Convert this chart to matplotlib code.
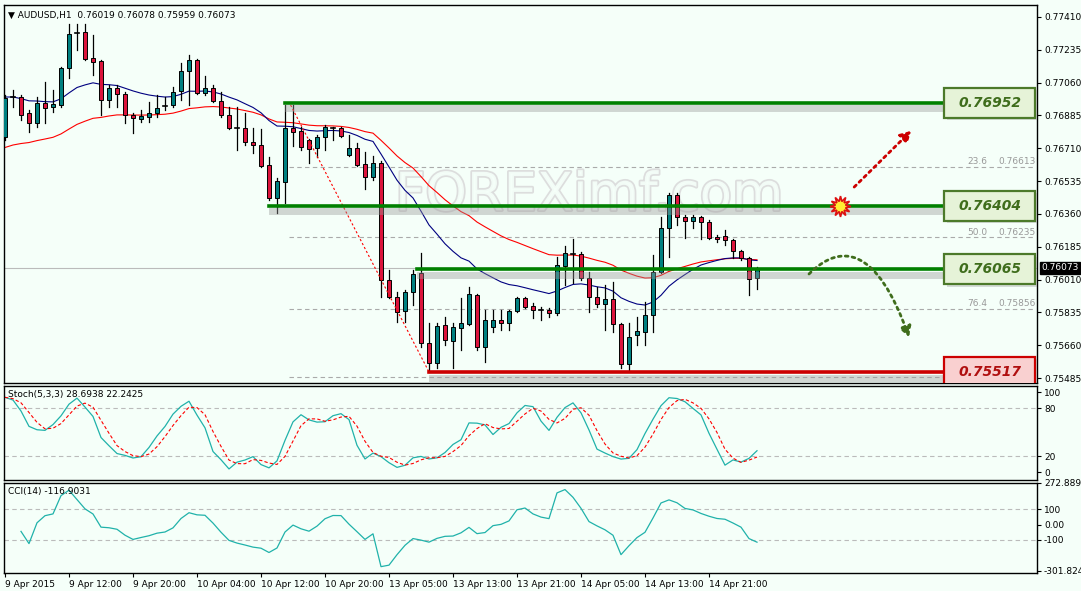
import matplotlib
matplotlib.use("Agg")
import matplotlib.pyplot as plt
import matplotlib.patheffects as pe
from matplotlib.patches import Rectangle, FancyArrowPatch, Path
import numpy as np
import pandas as pd

# ---- data (AUDUSD H1, 5-digit points) ----
opens = [76770, 76984, 76984, 76898, 76845, 76952, 76930, 76941, 77138, 77325,
         77330, 77191, 77175, 76968, 77032, 77000, 76888, 76866, 76877, 76898,
         76936, 76941, 77016, 77122, 77181, 77005, 77032, 76962, 76888, 76818,
         76818, 76744, 76728, 76621, 76445, 76531, 76818, 76802, 76754, 76711,
         76770, 76818, 76818, 76675, 76712, 76626, 76557, 76632, 76008, 75918,
         75843, 75944, 76045, 75672, 75566, 75768, 75683, 75752, 75774, 75928,
         75651, 75758, 75795, 75779, 75843, 75912, 75870, 75848, 75848, 75832,
         76083, 76147, 76147, 76019, 75918, 75880, 75907, 75774, 75561, 75715,
         75731, 75822, 76051, 76285, 76461, 76344, 76323, 76344, 76317, 76237,
         76243, 76221, 76163, 76125, 76019]
highs = [76994, 77021, 76994, 76914, 76984, 77064, 77021, 77143, 77373, 77373,
         77373, 77314, 77180, 77048, 77048, 77010, 76898, 76914, 76957, 76994,
         76984, 77037, 77165, 77207, 77186, 77096, 77048, 77010, 76930, 76930,
         76898, 76818, 76813, 76664, 76552, 76941, 76941, 76824, 76759, 76781,
         76834, 76824, 76824, 76781, 76738, 76690, 76669, 76642, 76062, 75944,
         75955, 76062, 76152, 75779, 75779, 75811, 75779, 75912, 75971, 75934,
         75848, 75848, 75848, 75848, 75918, 75918, 75886, 75864, 75859, 76131,
         76189, 76227, 76157, 76051, 75971, 75982, 75998, 75779, 75779, 75811,
         75891, 76141, 76344, 76472, 76472, 76355, 76355, 76350, 76328, 76248,
         76275, 76227, 76168, 76131, 76078]
lows = [76754, 76930, 76861, 76797, 76824, 76845, 76904, 76930, 77085, 77234,
        77180, 77101, 76888, 76930, 76930, 76845, 76792, 76850, 76850, 76877,
        76914, 76930, 76968, 76941, 77000, 76994, 76957, 76877, 76813, 76701,
        76728, 76685, 76610, 76435, 76365, 76419, 76722, 76701, 76632, 76664,
        76701, 76754, 76770, 76669, 76616, 76493, 76541, 75918, 75912, 75784,
        75784, 75875, 75651, 75518, 75539, 75662, 75539, 75635, 75768, 75635,
        75571, 75731, 75742, 75742, 75838, 75860, 75806, 75795, 75811, 75822,
        75982, 75992, 76008, 75838, 75864, 75742, 75731, 75539, 75528, 75662,
        75662, 75731, 76045, 76131, 76301, 76232, 76285, 76227, 76227, 76211,
        76195, 76125, 76115, 75928, 75959]
closes = [76978, 76986, 76888, 76845, 76952, 76925, 76946, 77138, 77319, 77323,
          77186, 77170, 76968, 77032, 77000, 76888, 76872, 76882, 76898, 76925,
          76938, 77010, 77122, 77181, 77005, 77032, 76962, 76888, 76818, 76820,
          76744, 76728, 76616, 76445, 76536, 76818, 76797, 76717, 76706, 76770,
          76824, 76816, 76776, 76712, 76621, 76557, 76632, 76008, 75918, 75838,
          75944, 76040, 75672, 75566, 75763, 75688, 75758, 75779, 75934, 75651,
          75795, 75795, 75779, 75843, 75912, 75864, 75848, 75846, 75832, 76088,
          76152, 76149, 76019, 75918, 75880, 75907, 75774, 75561, 75704, 75736,
          75822, 76051, 76285, 76461, 76344, 76323, 76344, 76317, 76232, 76227,
          76221, 76163, 76125, 76014, 76073]
time_labels = ["9 Apr 2015", "9 Apr 12:00", "9 Apr 20:00", "10 Apr 04:00",
               "10 Apr 12:00", "10 Apr 20:00", "13 Apr 05:00", "13 Apr 13:00",
               "13 Apr 21:00", "14 Apr 05:00", "14 Apr 13:00", "14 Apr 21:00"]
price_ticks = [0.77410, 0.77235, 0.77060, 0.76885, 0.76710, 0.76535,
               0.76360, 0.76185, 0.76010, 0.75835, 0.75660, 0.75485]
levels = [0.76952, 0.76404, 0.76065]
support = 0.75517
fib_levels = [("23.6", 0.76613), ("50.0", 0.76235), ("76.4", 0.75856)]
ma_seed_fast, ma_seed_slow = 0.76984, 0.76701
stoch_title = "Stoch(5,3,3) 28.6938 22.2425"
cci_title = "CCI(14) -116.9031"

o = np.array(opens) / 1e5
h = np.array(highs) / 1e5
l = np.array(lows) / 1e5
c = np.array(closes) / 1e5
n = len(c)
idx = np.arange(n)

# indicators
s = pd.Series(c)
ma_fast = pd.concat([pd.Series([ma_seed_fast] * 8), s]).ewm(span=21, adjust=False).mean().values[8:]
ma_slow = pd.concat([pd.Series([ma_seed_slow] * 8), s]).ewm(span=40, adjust=False).mean().values[8:]
hh = pd.Series(h).rolling(5, min_periods=1).max()
ll = pd.Series(l).rolling(5, min_periods=1).min()
k = ((s - ll).rolling(3, min_periods=1).sum() / (hh - ll).rolling(3, min_periods=1).sum() * 100)
d = k.rolling(3, min_periods=1).mean()
tp = (pd.Series(h) + pd.Series(l) + s) / 3
sma = tp.rolling(14, min_periods=3).mean()
mad = tp.rolling(14, min_periods=3).apply(lambda x: np.abs(x - x.mean()).mean(), raw=True)
cci = (tp - sma) / (0.015 * mad)

W, H = 1081, 591
BG = "#f5fff9"
fig = plt.figure(figsize=(W / 100, H / 100), dpi=100, facecolor=BG)
plt.rcParams['font.family'] = ['DejaVu Sans']

def axes_px(left, top, right, bottom):
    return fig.add_axes([left / W, 1 - bottom / H, (right - left) / W, (bottom - top) / H], facecolor=BG)

xlim = ((4 - 5) / 8, (1037 - 5) / 8)
ax = axes_px(4, 5, 1037, 383)
ax2 = axes_px(4, 386, 1037, 480)
ax3 = axes_px(4, 483, 1037, 573)

for a in (ax, ax2, ax3):
    a.set_xlim(*xlim)
    a.yaxis.tick_right()
    a.tick_params(axis='y', labelsize=6.5, length=3, pad=2, colors='black')
    a.tick_params(axis='x', length=0)
    a.set_xticklabels([])
    for sp in a.spines.values():
        sp.set_linewidth(1)

ax.set_ylim(0.7741 - 366 * 0.0000533, 0.7741 + 12 * 0.0000533)
ax.set_yticks(price_ticks)
ax.set_yticklabels([f"{p:.5f}" for p in price_ticks])
ax.set_xticks([])

# fib dashed lines
for lab, val in fib_levels + [("", 0.75485 + 0.00008)]:
    ax.plot([35.5, 128.5], [val, val], color='#aaaaaa', lw=0.8, ls=(0, (4, 3)), zorder=1)
    if lab:
        ax.text(120.3, val + 0.00004, lab, fontsize=6.5, color='#999999', va='bottom')
        ax.text(124.2, val + 0.00004, f"{val:.5f}", fontsize=6.5, color='#999999', va='bottom')
ax.axhline(c[-1], color='#bbbbbb', lw=0.8, zorder=1)

# watermark
ax.text(73, 0.7646, "FOREXimf.com", fontsize=38, color=BG, alpha=0.9,
        ha='center', va='center', zorder=0,
        path_effects=[pe.withStroke(linewidth=2.5, foreground='#dadada')])

# moving averages
ax.plot(idx, ma_slow, color='red', lw=0.8, zorder=2)
ax.plot(idx, ma_fast, color='navy', lw=0.8, zorder=2)

# candles
for i in range(n):
    up = c[i] >= o[i]
    ax.plot([i, i], [l[i], h[i]], color='black', lw=0.9, zorder=3)
    bot, top = min(o[i], c[i]), max(o[i], c[i])
    if top - bot < 0.00003:
        ax.plot([i - 0.3, i + 0.3], [c[i], c[i]], color='black', lw=1.2, zorder=4)
    else:
        ax.add_patch(Rectangle((i - 0.3, bot), 0.6, top - bot,
                               facecolor='#008080' if up else '#dc143c',
                               edgecolor='black', lw=0.7, zorder=4))

# fib trend line
ax.plot([35.7, 53], [h[35], l[53]], color='red', lw=0.8, ls=(0, (2, 2)), zorder=5)

# levels and boxes
shadow = [pe.SimpleLineShadow(offset=(2, -4), shadow_color='#999999', alpha=0.4, linewidth=5), pe.Normal()]
for val, start, col in [(levels[0], 35, 'green'), (levels[1], 33, 'green'),
                        (levels[2], 51.5, 'green'), (support, 53, '#cc0000')]:
    ax.plot([start, 117.5], [val, val], color=col, lw=2.6, zorder=6, path_effects=shadow)
    fill = '#e6f3d8' if col == 'green' else '#f9d0d0'
    edge = '#4c7a2a' if col == 'green' else '#cc0000'
    tcol = '#3f6d1c' if col == 'green' else '#b01010'
    bh = 30 * 0.0000533
    ax.add_patch(Rectangle((117.75, val - bh / 2 - 0.00012), 11.4, bh, facecolor='#999999',
                           alpha=0.35, edgecolor='none', zorder=6))
    ax.add_patch(Rectangle((117.4, val - bh / 2), 11.4, bh, facecolor=fill, edgecolor=edge,
                           lw=1.6, zorder=7))
    ax.text(123.1, val, f"{val:.5f}", fontsize=10, fontweight='bold', fontstyle='italic',
            color=tcol, ha='center', va='center', zorder=8)

# arrows
ax.add_patch(FancyArrowPatch((105.9, 0.7741 - 172 * 0.0000533), (113.5, 0.7741 - 112 * 0.0000533),
                             arrowstyle='-|>,head_length=6,head_width=3.5', color='#cc0000',
                             lw=2, ls=(0, (1, 1.5)), zorder=8))
verts = [(100.5, 0.7741 - 257 * 0.0000533), (104.5, 0.7741 - 225 * 0.0000533),
         (109, 0.7741 - 230 * 0.0000533), (113, 0.7741 - 320 * 0.0000533)]
ax.add_patch(FancyArrowPatch(path=Path(verts, [Path.MOVETO, Path.CURVE4, Path.CURVE4, Path.CURVE4]),
                             arrowstyle='-|>,head_length=6,head_width=3.5', color='#3f6d1c',
                             lw=2, ls=(0, (1, 1.5)), zorder=8))
ax.plot(104.4, levels[1], marker=(12, 1, 0), markersize=15, markerfacecolor='#ffee33',
        markeredgecolor='#dd1111', markeredgewidth=1.2, zorder=9)

# current price tag
ax.text(1.004, (c[-1] - ax.get_ylim()[0]) / (ax.get_ylim()[1] - ax.get_ylim()[0]), f"{c[-1]:.5f}",
        transform=ax.transAxes, fontsize=6.5, color='white', va='center', ha='left',
        bbox=dict(boxstyle='square,pad=0.15', facecolor='black', edgecolor='black'), zorder=10)

ax.text(0.004, 0.985, "\u25bc AUDUSD,H1  0.76019 0.76078 0.75959 0.76073", transform=ax.transAxes,
        fontsize=6.5, va='top', ha='left', color='black')

# stochastic
ax2.set_ylim(-10, 107.5)
ax2.set_yticks([0, 20, 80, 100])
for lv in (20, 80):
    ax2.axhline(lv, color='#bbbbbb', lw=0.8, ls=(0, (4, 3)))
ax2.plot(idx, k, color='#20b2aa', lw=0.9)
ax2.plot(idx, d, color='red', lw=0.8, ls=(0, (3, 2)))
ax2.text(0.004, 0.96, stoch_title, transform=ax2.transAxes, fontsize=6.5, va='top')
ax2.set_xticks([])

# CCI
ax3.set_ylim(-316, 264)
ax3.set_yticks([272.8895, 100, 0, -100, -301.8245])
ax3.set_yticklabels(["272.8895", "100", "0.00", "-100", "-301.8245"])
for lv in (100, -100):
    ax3.axhline(lv, color='#bbbbbb', lw=0.8, ls=(0, (4, 3)))
ax3.plot(idx, cci, color='#20b2aa', lw=0.9)
ax3.text(0.004, 0.96, cci_title, transform=ax3.transAxes, fontsize=6.5, va='top')
ax3.set_xticks(np.arange(0, 8 * len(time_labels), 8))
ax3.set_xticklabels(time_labels, fontsize=6.5)
ax3.tick_params(axis='x', length=3, pad=2)
for t in ax3.get_xticklabels():
    t.set_horizontalalignment('left')

fig.savefig("out.png", dpi=100, facecolor=BG)
